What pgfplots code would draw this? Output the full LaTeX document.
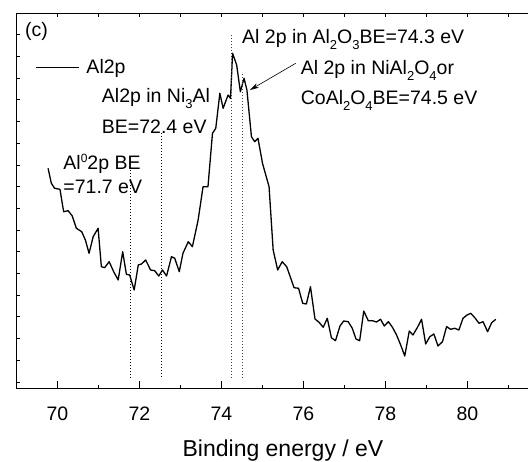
\documentclass[border=0pt]{standalone}
\usepackage{pgfplots}
\pgfplotsset{compat=1.18}
\usepackage{pgfplotstable}
\usepackage{fontspec}
\setmainfont{Liberation Sans}
\usetikzlibrary{arrows.meta}
\newcommand{\annfont}{\fontsize{19.5}{22}\selectfont}
\newcommand{\sub}[1]{\raisebox{-6pt}{\fontsize{13}{13}\selectfont #1}}
\newcommand{\sups}[1]{\raisebox{7.5pt}{\fontsize{12}{12}\selectfont #1}}

\pgfplotstableread{
x y
69.77 220.7
69.85 205.7
69.93 200.7
70.06 199.7
70.15 177.3
70.26 178.3
70.36 173.0
70.46 160.7
70.59 157.3
70.68 149.0
70.77 135.7
70.87 152.3
70.99 160.7
71.07 122.3
71.15 121.3
71.26 127.3
71.37 117.3
71.48 109.0
71.59 137.3
71.68 114.7
71.76 114.0
71.87 99.0
71.97 124.0
72.05 125.0
72.15 129.0
72.27 119.0
72.37 118.3
72.47 113.0
72.56 119.0
72.66 113.0
72.78 132.3
72.86 130.7
72.97 117.3
73.06 135.7
73.19 147.3
73.29 142.3
73.43 169.0
73.55 202.3
73.67 202.3
73.78 255.7
73.86 260.7
73.96 295.7
74.04 280.7
74.16 294.0
74.22 290.7
74.27 335.7
74.37 324.0
74.46 297.3
74.55 310.7
74.62 299.0
74.73 252.3
74.81 247.3
74.89 250.7
75.00 225.7
75.16 202.3
75.26 139.0
75.37 119.0
75.48 127.3
75.59 122.3
75.77 101.3
75.88 100.7
75.98 85.7
76.07 85.0
76.17 102.3
76.28 70.0
76.38 66.7
76.48 61.7
76.58 70.7
76.68 51.3
76.78 48.3
76.89 63.0
76.98 68.0
77.09 67.3
77.19 60.7
77.28 50.0
77.37 48.3
77.47 78.0
77.58 68.3
77.68 68.3
77.78 67.0
77.88 69.7
77.97 63.0
78.07 67.3
78.17 61.7
78.27 54.0
78.37 44.0
78.47 33.0
78.58 58.0
78.67 54.0
78.78 61.7
78.88 69.7
78.98 45.0
79.08 52.3
79.18 55.0
79.28 43.0
79.39 47.3
79.49 62.3
79.59 59.7
79.69 60.7
79.79 59.0
79.89 70.7
79.99 74.0
80.08 75.7
80.19 70.7
80.28 65.7
80.38 67.3
80.49 57.3
80.59 66.3
80.69 69.7
}\altwop

\begin{document}
\begin{tikzpicture}
\begin{axis}[
  at={(16.5pt,73pt)}, anchor=south west,
  scale only axis, width=533pt, height=375pt,
  xmin=69, xmax=82, ymin=0, ymax=375,
  xtick={70,72,...,80}, minor xtick={69,71,...,81},
  ytick=\empty,
  xtick pos=left, ytick pos=left,
  tick align=inside,
  major tick length=8pt, minor tick length=4pt,
  tick style={line width=1pt, black},
  axis line style={line width=1pt},
  /pgf/number format/assume math mode=true,
  tick label style={font=\fontsize{19.5}{22}\selectfont},
  xticklabel style={anchor=base, yshift=-31.7pt},
  xlabel={Binding energy / eV},
  xlabel style={at={(axis description cs:0.5,0)}, anchor=base, yshift=-68pt, font=\fontsize{23}{26}\selectfont},
  legend style={draw=none, fill=none, at={(axis description cs:0.0347,0.857)}, anchor=west,
    inner sep=0pt, font=\annfont, column sep=7pt, nodes={inner sep=0pt}},
  legend cell align=left,
  legend image code/.code={\draw[#1] (0pt,0pt) -- (43pt,0pt);},
]
\addplot[black, line width=1.3pt, line join=round] table[x=x, y=y] {\altwop};
\addlegendentry{Al2p}

\draw[dash pattern=on 1pt off 2pt, line width=0.9pt] (axis cs:71.79,11.3) -- (axis cs:71.79,224);
\draw[dash pattern=on 1pt off 2pt, line width=0.9pt] (axis cs:72.54,12.3) -- (axis cs:72.54,257.3);
\draw[dash pattern=on 1pt off 2pt, line width=0.9pt, black!75] (axis cs:74.25,11.3) -- (axis cs:74.25,356);
\draw[dash pattern=on 1pt off 2pt, line width=0.9pt, black!75] (axis cs:74.51,11.3) -- (axis cs:74.51,317.3);
\draw[-{Stealth[length=9pt,width=5pt]}, line width=0.6pt] (axis cs:75.81,325.7) -- (axis cs:74.695,299);

\node[anchor=base west, inner sep=0pt, font=\annfont] at (axis cs:69.207,352) {(c)};
\node[anchor=base west, inner sep=0pt, font=\annfont] at (axis cs:74.50,345.7) {Al 2p in Al\sub{2}O\sub{3}BE=74.3 eV};
\node[anchor=base west, inner sep=0pt, font=\annfont] at (axis cs:75.93,314) {Al 2p in NiAl\sub{2}O\sub{4}or};
\node[anchor=base west, inner sep=0pt, font=\annfont] at (axis cs:75.93,284) {CoAl\sub{2}O\sub{4}BE=74.5 eV};
\node[anchor=base west, inner sep=0pt, font=\annfont] at (axis cs:71.08,286.3) {Al2p in Ni\sub{3}Al};
\node[anchor=base west, inner sep=0pt, font=\annfont] at (axis cs:71.08,255.7) {BE=72.4 eV};
\node[anchor=base west, inner sep=0pt, font=\annfont] at (axis cs:70.14,219) {Al\sups{0}2p BE};
\node[anchor=base west, inner sep=0pt, font=\annfont] at (axis cs:70.14,195.7) {=71.7 eV};
\end{axis}
\begin{axis}[
  at={(16.5pt,73pt)}, anchor=south west,
  scale only axis, width=533pt, height=375pt,
  xmin=69, xmax=82, ymin=0, ymax=375,
  axis x line*=top, axis y line*=left,
  xtick={69,...,82}, xticklabels={},
  ytick={7,28.7,...,360}, yticklabels={},
  major tick length=3pt, tick align=inside,
  axis line style={-, line width=1pt},
  tick style={line width=0.8pt, black},
]
\end{axis}
\pgfresetboundingbox
\useasboundingbox (0,0) rectangle (528pt,462pt);
\end{tikzpicture}
\end{document}
